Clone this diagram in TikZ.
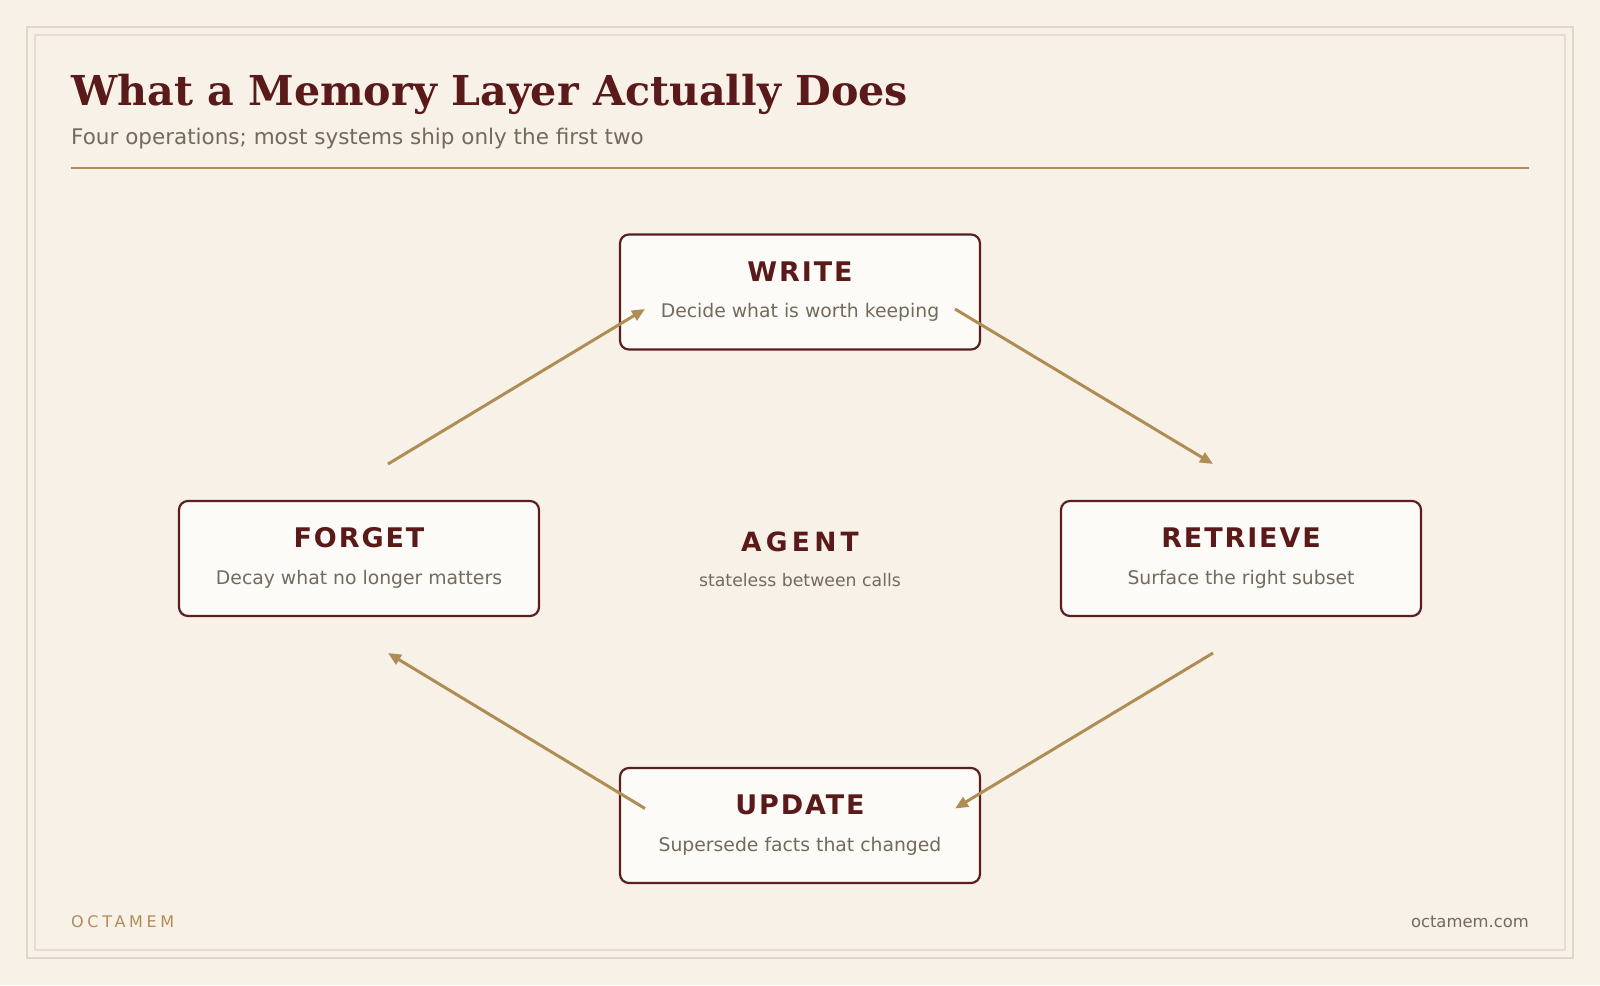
\documentclass[tikz,border=0pt]{standalone}
\usepackage{fontspec}
\setmainfont{DejaVu Sans}
\newfontfamily\titlefont{DejaVu Serif}
\newfontfamily\boxtitlefont[LetterSpace=7]{DejaVu Sans}
\newfontfamily\agentfont[LetterSpace=16]{DejaVu Sans}
\newfontfamily\brandfont[LetterSpace=23]{DejaVu Sans}
\usetikzlibrary{arrows.meta,calc}
\definecolor{bgc}{HTML}{F7F1E8}
\definecolor{outerc}{HTML}{E0D6C5}
\definecolor{innerc}{HTML}{E6DDCE}
\definecolor{boxfill}{HTML}{FDFBF7}
\definecolor{maroon}{HTML}{5C1F1F}
\definecolor{titlec}{HTML}{5B1A1A}
\definecolor{grayc}{HTML}{736A5D}
\definecolor{tan}{HTML}{B08D55}
\tikzset{
  opbox/.style={draw=maroon, line width=2.2pt, fill=boxfill, rounded corners=9pt,
    minimum width=360pt, minimum height=115pt, inner sep=0pt},
  optitle/.style={anchor=base, text=titlec, inner sep=0pt,
    font=\boxtitlefont\fontsize{27}{30}\selectfont\bfseries},
  opsub/.style={anchor=base, text=grayc, inner sep=0pt,
    font=\fontsize{18.8}{22}\selectfont},
  flow/.style={draw=tan, line width=3pt, -{Triangle[length=13pt,width=11pt]}},
}
\begin{document}
\begin{tikzpicture}[x=1pt,y=-1pt]
\useasboundingbox (0,0) rectangle (1600,985);
\fill[bgc] (0,0) rectangle (1600,985);
\draw[outerc, line width=2pt] (27,27) rectangle (1573,958);
\draw[innerc, line width=1.2pt] (35,35) rectangle (1565,950);

% header
\node[anchor=base west, inner sep=0pt, text=titlec,
  font=\titlefont\fontsize{41.2}{46}\selectfont\bfseries] (title) at (71,105)
  {What a Memory Layer Actually Does};
\node[anchor=base west, inner sep=0pt, text=grayc,
  font=\fontsize{21.5}{25}\selectfont] (subtitle) at (71,144)
  {Four operations; most systems ship only the first two};
\coordinate (ruleL) at (71,168);
\coordinate (ruleR) at (1529,168);
\draw[tan, line width=2.5pt] (ruleL) -- (ruleR);

% boxes
\node[opbox] (write) at (800,292) {};
\node[opbox] (forget) at (359,558.5) {};
\node[opbox] (retrieve) at (1241,558.5) {};
\node[opbox] (update) at (800,825.5) {};

\node[optitle] (write-t) at ($(write.center)+(0,-11)$) {WRITE};
\node[opsub] (write-s) at ($(write.center)+(0,25.5)$) {Decide what is worth keeping};
\node[optitle] (forget-t) at ($(forget.center)+(0,-11)$) {FORGET};
\node[opsub] (forget-s) at ($(forget.center)+(0,25.5)$) {Decay what no longer matters};
\node[optitle] (retrieve-t) at ($(retrieve.center)+(0,-11)$) {RETRIEVE};
\node[opsub] (retrieve-s) at ($(retrieve.center)+(0,25.5)$) {Surface the right subset};
\node[optitle] (update-t) at ($(update.center)+(0,-11)$) {UPDATE};
\node[opsub] (update-s) at ($(update.center)+(0,25.5)$) {Supersede facts that changed};

% agent
\coordinate (agent) at (800,558.5);
\node[anchor=base, inner sep=0pt, text=titlec,
  font=\agentfont\fontsize{26.5}{30}\selectfont\bfseries] (agent-t) at ($(agent)+(0,-7.5)$) {AGENT};
\node[anchor=base, inner sep=0pt, text=grayc,
  font=\fontsize{17.3}{20}\selectfont] (agent-s) at ($(agent)+(0,27.5)$) {stateless between calls};

% arrow end points
\coordinate (w-in)  at ($(write.center)+(-155,17)$);
\coordinate (w-out) at ($(write.center)+(155,17)$);
\coordinate (r-in)  at ($(retrieve.center)+(-28,-94.5)$);
\coordinate (r-out) at ($(retrieve.center)+(-28,94.5)$);
\coordinate (u-in)  at ($(update.center)+(155,-17)$);
\coordinate (u-out) at ($(update.center)+(-155,-17)$);
\coordinate (f-in)  at ($(forget.center)+(29,94.5)$);
\coordinate (f-out) at ($(forget.center)+(29,-94.5)$);

\draw[flow] (f-out) -- (w-in);
\draw[flow] (w-out) -- (r-in);
\draw[flow] (r-out) -- (u-in);
\draw[flow] (u-out) -- (f-in);

% footer
\node[anchor=base west, inner sep=0pt, text=tan,
  font=\brandfont\fontsize{16}{19}\selectfont] (brand) at (71,927) {OCTAMEM};
\node[anchor=base east, inner sep=0pt, text=grayc,
  font=\fontsize{16.4}{19}\selectfont] (site) at (1529,927) {octamem.com};
\end{tikzpicture}
\end{document}
